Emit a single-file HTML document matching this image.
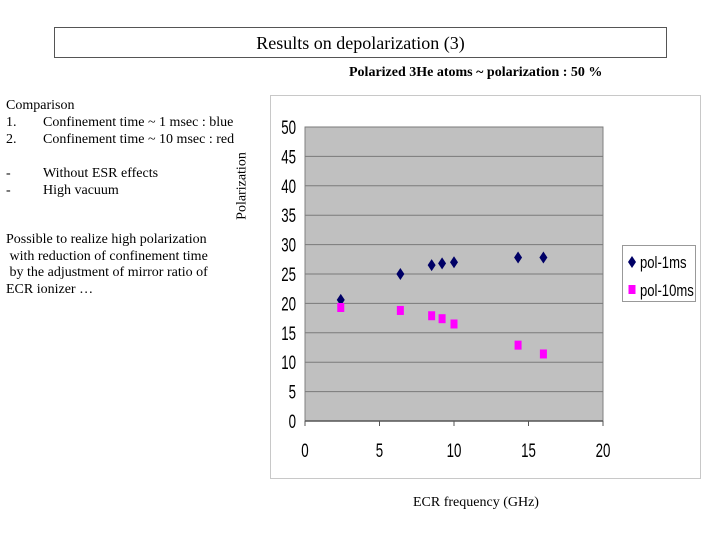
<!DOCTYPE html>
<html><head><meta charset="utf-8">
<style>
body{margin:0;width:720px;height:540px;background:#fff;position:relative;overflow:hidden;font-family:"Liberation Serif",serif;}
.t{position:absolute;font-size:14px;color:#000;white-space:nowrap;line-height:17px;}
</style></head><body>
<div style="position:absolute;left:54px;top:27px;width:611px;height:29px;border:1px solid #555;text-align:center;line-height:31px;font-size:18px;">Results on depolarization (3)</div>
<div class="t" style="left:349px;top:64px;font-weight:bold;">Polarized 3He atoms ~ polarization : 50 %</div>
<div class="t" style="left:6px;top:97px;">Comparison<br>1.<span style="position:absolute;left:37px;">Confinement time ~ 1 msec : blue</span><br>2.<span style="position:absolute;left:37px;">Confinement time ~ 10 msec : red</span></div>
<div class="t" style="left:6px;top:165px;">-<span style="position:absolute;left:37px;">Without ESR effects</span><br>-<span style="position:absolute;left:37px;">High vacuum</span></div>
<div class="t" style="left:6px;top:232px;line-height:16.7px;">Possible to realize high polarization<br>&nbsp;with reduction of confinement time<br>&nbsp;by the adjustment of mirror ratio of<br>ECR ionizer …</div>
<div class="t" style="left:242px;top:186px;transform:translate(-50%,-50%) rotate(-90deg);">Polarization</div>
<div class="t" style="left:413px;top:494px;">ECR frequency (GHz)</div>
<svg id="chart" width="720" height="540" style="position:absolute;left:0;top:0;">
<rect x="270.5" y="95.5" width="430" height="383" fill="#fff" stroke="#c8c8c8"/>
</svg>
<script>
const xTicks=[0,5,10,15,20];
const yTicks=[0,5,10,15,20,25,30,35,40,45,50];
const freq1=[2.4,6.4,8.5,9.2,10,14.3,16];
const pol1=[20.6,25,26.5,26.8,27,27.8,27.8];
const freq10=[2.4,6.4,8.5,9.2,10,14.3,16];
const pol10=[19.3,18.8,17.9,17.4,16.5,12.9,11.4];
const seriesNames=["pol-1ms","pol-10ms"];
const L=305,R=603,T=127,B=421;
const sx=v=>L+(v-0)/(20-0)*(R-L);
const sy=v=>B-(v-0)/(50-0)*(B-T);
const svg=document.getElementById('chart');
const NS='http://www.w3.org/2000/svg';
function mk(tag,at){const e=document.createElementNS(NS,tag);for(const k in at)e.setAttribute(k,at[k]);svg.appendChild(e);return e;}
let pa=mk('rect',{x:L,y:T,width:R-L,height:B-T,fill:'#c0c0c0',stroke:'#808080'});


yTicks.forEach(v=>{
  if(v>0){let g=mk('line',{x1:L,x2:R,y1:sy(v),y2:sy(v),stroke:'#7a7a7a','stroke-width':1});
  
  }
  let t=mk('text',{x:L-9,y:sy(v)+7,'text-anchor':'end','font-family':'Liberation Sans, sans-serif','font-size':19,transform:`translate(${L-9},0) scale(0.7,1) translate(${-(L-9)},0)`});
  t.textContent=v;
  
  
});
let ax=mk('line',{x1:L,x2:R,y1:B,y2:B,stroke:'#555','stroke-width':1.5});


xTicks.forEach(v=>{
  let tk=mk('line',{x1:sx(v),x2:sx(v),y1:B,y2:B+5,stroke:'#555'});
  
  
  let t=mk('text',{x:sx(v),y:B+36,'text-anchor':'middle','font-family':'Liberation Sans, sans-serif','font-size':19,transform:`translate(${sx(v)},0) scale(0.7,1) translate(${-sx(v)},0)`});
  t.textContent=v;
  
  
});
function diamond(cx,cy){return `${cx},${cy-6} ${cx+4},${cy} ${cx},${cy+6} ${cx-4},${cy}`;}
freq1.forEach((f,i)=>{
  let p=mk('polygon',{points:diamond(sx(f),sy(pol1[i])),fill:'#000066'});
  
  
});
freq10.forEach((f,i)=>{
  let p=mk('rect',{x:sx(f)-3.5,y:sy(pol10[i])-4.5,width:7,height:9,fill:'#ff00ff'});
  
  
});
let lg=mk('rect',{x:622.5,y:245.5,width:73,height:56,fill:'#fff',stroke:'#999'});


let m1=mk('polygon',{points:diamond(632,262),fill:'#000066'});


let m2=mk('rect',{x:628.5,y:285,width:7,height:9,fill:'#ff00ff'});


[[seriesNames[0],268],[seriesNames[1],296]].forEach(([n,y],i)=>{
  let t=mk('text',{x:640,y:y,'font-family':'Liberation Sans, sans-serif','font-size':17,transform:`translate(640,0) scale(0.77,1) translate(-640,0)`});
  t.textContent=n;
  
  
});
</script>
</body></html>
